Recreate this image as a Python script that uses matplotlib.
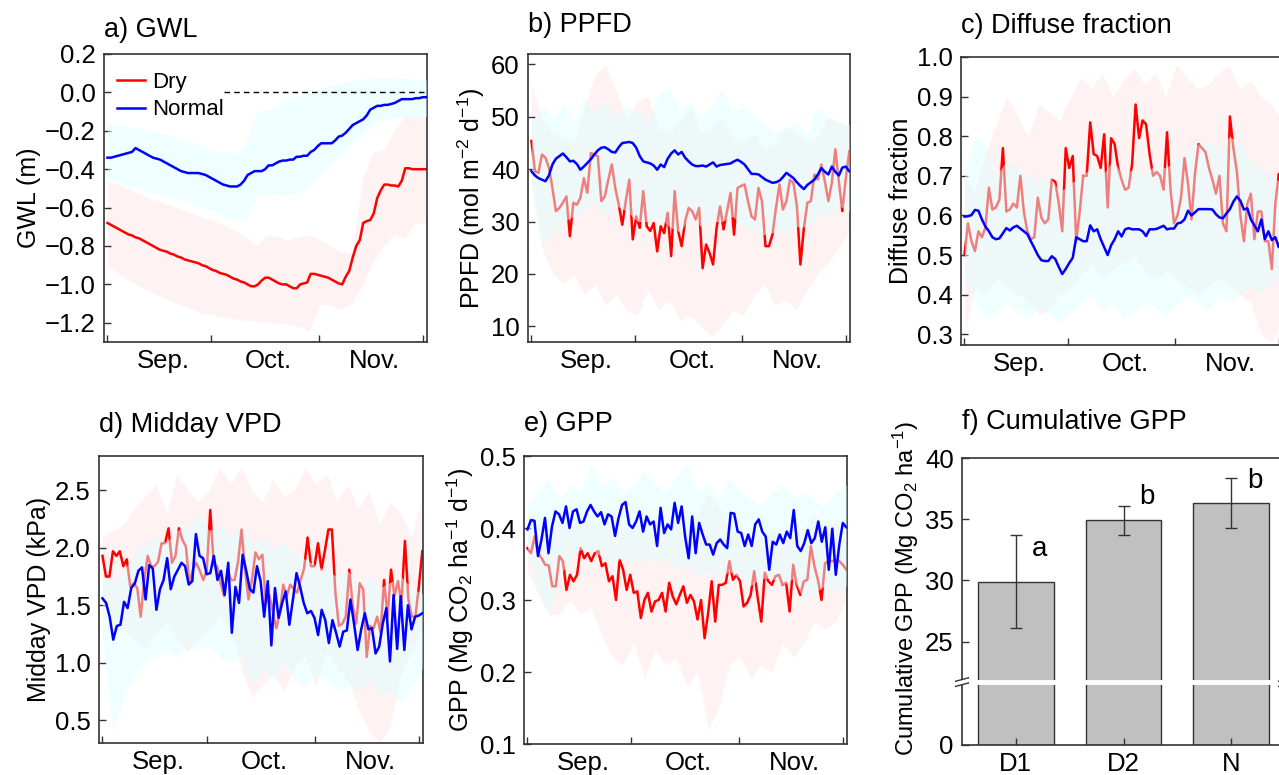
import numpy as np
import matplotlib
matplotlib.use("Agg")
import matplotlib.pyplot as plt

plt.rcParams['font.family'] = ['Liberation Sans', 'DejaVu Sans']
plt.rcParams['mathtext.fontset'] = 'custom'
plt.rcParams['mathtext.rm'] = 'Liberation Sans'
plt.rcParams['mathtext.it'] = 'Liberation Sans:italic'
plt.rcParams['mathtext.default'] = 'regular'

# --- data (daily values, Sep 1 .. Dec 1) ---
months = ["Sep.", "Oct.", "Nov."]

# a) GWL (m)
gwl_dry = [-0.68, -0.69, -0.70, -0.71, -0.72, -0.73, -0.74, -0.745, -0.755, -0.76,
           -0.77, -0.78, -0.79, -0.80, -0.81, -0.82, -0.825, -0.83, -0.84, -0.845,
           -0.855, -0.86, -0.87, -0.875, -0.88, -0.885, -0.89, -0.90, -0.905, -0.915,
           -0.925, -0.93, -0.94, -0.945, -0.95, -0.96, -0.97, -0.975, -0.985, -0.99,
           -1.0, -1.01, -1.01, -1.0, -0.98, -0.965, -0.965, -0.975, -0.985, -0.995,
           -1.0, -1.0, -1.01, -1.02, -1.02, -1.0, -0.995, -0.99, -0.945, -0.945,
           -0.95, -0.955, -0.96, -0.965, -0.975, -0.985, -0.995, -1.0, -0.96, -0.93,
           -0.86, -0.80, -0.77, -0.68, -0.67, -0.665, -0.63, -0.55, -0.51, -0.48,
           -0.48, -0.485, -0.485, -0.49, -0.46, -0.395, -0.395, -0.40, -0.40, -0.40,
           -0.40, -0.40]
gwl_normal = [-0.34, -0.34, -0.335, -0.33, -0.325, -0.32, -0.315, -0.31, -0.29, -0.30,
              -0.31, -0.32, -0.33, -0.34, -0.345, -0.35, -0.36, -0.37, -0.38, -0.39,
              -0.40, -0.41, -0.415, -0.42, -0.42, -0.42, -0.42, -0.425, -0.43, -0.44,
              -0.45, -0.46, -0.47, -0.48, -0.485, -0.49, -0.49, -0.49, -0.48, -0.46,
              -0.43, -0.42, -0.41, -0.41, -0.41, -0.40, -0.38, -0.38, -0.37, -0.36,
              -0.355, -0.355, -0.35, -0.35, -0.335, -0.335, -0.33, -0.33, -0.31, -0.30,
              -0.28, -0.265, -0.265, -0.265, -0.265, -0.25, -0.23, -0.225, -0.21, -0.19,
              -0.17, -0.16, -0.15, -0.14, -0.12, -0.09, -0.08, -0.07, -0.07, -0.065,
              -0.065, -0.06, -0.055, -0.045, -0.035, -0.035, -0.035, -0.035, -0.03, -0.03,
              -0.025, -0.025]
gwl_dry_lo = [-0.90, -0.94, -0.98, -1.01, -1.04, -1.06, -1.09, -1.11, -1.13, -1.15, -1.16,
              -1.17, -1.18, -1.19, -1.19, -1.20, -1.20, -1.21, -1.22, -1.24, -1.10, -1.11,
              -1.13, -1.10, -1.00, -0.88, -0.80, -0.74, -0.76, -0.68, -0.68]
gwl_dry_hi = [-0.46, -0.48, -0.50, -0.53, -0.55, -0.57, -0.59, -0.61, -0.63, -0.65, -0.67,
              -0.69, -0.72, -0.75, -0.80, -0.74, -0.75, -0.77, -0.75, -0.74, -0.77, -0.80,
              -0.83, -0.84, -0.45, -0.31, -0.30, -0.20, -0.12, -0.12, -0.12]
gwl_nor_lo = [-0.45, -0.47, -0.49, -0.50, -0.52, -0.53, -0.545, -0.56, -0.58, -0.60, -0.62,
              -0.64, -0.66, -0.66, -0.54, -0.53, -0.53, -0.54, -0.52, -0.48, -0.42, -0.38,
              -0.33, -0.27, -0.22, -0.17, -0.14, -0.13, -0.13, -0.13, -0.125]
gwl_nor_hi = [-0.16, -0.17, -0.18, -0.185, -0.20, -0.21, -0.225, -0.24, -0.26, -0.28, -0.30,
              -0.31, -0.32, -0.27, -0.10, -0.09, -0.07, -0.04, -0.02, 0.00, 0.02, 0.04,
              0.05, 0.06, 0.07, 0.075, 0.075, 0.075, 0.07, 0.07, 0.065]

# b) PPFD (mol m-2 d-1)
ppfd_dry = [45.4, 39.6, 39.3, 42.8, 42.2, 40.3, 36.4, 32.0, 32.6, 33.6, 34.8, 27.2, 33.6,
            33.2, 34.5, 38.3, 35.5, 43.1, 42.8, 42.5, 33.9, 34.8, 38.0, 40.9, 36.4, 33.2,
            29.4, 33.9, 38.0, 26.6, 31.0, 28.8, 35.8, 29.1, 28.2, 29.7, 24.3, 29.1, 27.8,
            31.7, 23.4, 35.8, 28.2, 25.3, 30.1, 32.6, 32.0, 30.4, 32.6, 21.1, 25.6, 24.0,
            21.8, 28.8, 32.9, 28.5, 32.0, 35.5, 27.5, 36.4, 36.8, 37.1, 33.9, 31.0, 30.4,
            36.4, 33.9, 25.3, 25.3, 27.5, 32.6, 37.1, 32.3, 33.9, 38.0, 37.4, 32.9, 21.8,
            28.8, 33.6, 33.9, 39.0, 38.0, 40.9, 37.7, 33.9, 37.4, 43.8, 37.7, 32.0, 38.3,
            43.4]
ppfd_normal = [39.6, 38.8, 38.3, 38.0, 37.7, 38.8, 40.9, 42.0, 42.5, 43.0, 42.3, 41.5, 41.6,
               41.0, 39.9, 40.5, 41.2, 41.9, 42.8, 43.6, 44.1, 44.2, 43.8, 43.3, 43.2, 44.2,
               45.0, 45.1, 45.2, 45.0, 44.1, 42.5, 41.5, 41.3, 41.1, 40.7, 39.9, 40.9, 40.4,
               42.0, 43.0, 43.6, 42.8, 43.3, 42.2, 41.5, 40.9, 40.6, 40.6, 40.7, 40.5, 40.9,
               41.3, 40.5, 40.8, 40.9, 41.0, 41.1, 41.5, 41.8, 41.4, 40.9, 40.0, 39.1, 39.1,
               39.0, 38.5, 38.0, 37.7, 37.4, 37.5, 37.8, 38.5, 39.3, 38.8, 38.3, 37.5, 36.8,
               36.2, 37.0, 37.5, 38.0, 39.0, 40.2, 39.5, 39.0, 40.5, 39.5, 38.8, 40.3, 40.5,
               39.6]
ppfd_dry_lo = [38, 25, 20, 18, 20, 16, 18, 14, 16, 13, 12, 17, 13, 15, 11, 12, 10, 8, 10, 13,
               12, 16, 18, 14, 15, 13, 17, 20, 22, 25, 28]
ppfd_dry_hi = [56, 50, 47, 46, 45, 52, 58, 60, 55, 50, 53, 54, 48, 47, 49, 52, 47, 48, 50, 46,
               45, 47, 44, 45, 48, 47, 45, 46, 50, 49, 48]
ppfd_nor_lo = [35, 25, 28, 30, 31, 32, 34, 31, 33, 32, 30, 30, 31, 29, 28, 31, 29, 30, 30, 31,
               29, 28, 27.5, 28, 28, 29, 29, 31, 31, 33, 32]
ppfd_nor_hi = [49, 52, 50, 52.5, 49, 54, 51, 53, 50, 52, 51, 49, 54.5, 55.5, 51, 53, 50, 52,
               55.5, 51, 52, 50, 49, 47, 48, 49, 46.5, 52, 50, 49, 48.5]

# c) Diffuse fraction
dif_dry = [0.50, 0.58, 0.535, 0.51, 0.56, 0.545, 0.57, 0.67, 0.615, 0.62, 0.64, 0.77, 0.61,
           0.615, 0.63, 0.62, 0.70, 0.61, 0.56, 0.54, 0.545, 0.645, 0.595, 0.58, 0.59, 0.69,
           0.685, 0.63, 0.56, 0.77, 0.72, 0.75, 0.535, 0.61, 0.70, 0.70, 0.835, 0.755, 0.75,
           0.72, 0.805, 0.62, 0.795, 0.78, 0.72, 0.69, 0.665, 0.67, 0.73, 0.88, 0.795, 0.84,
           0.83, 0.755, 0.70, 0.71, 0.70, 0.665, 0.81, 0.665, 0.58, 0.60, 0.645, 0.745, 0.68,
           0.59, 0.705, 0.78, 0.77, 0.76, 0.72, 0.69, 0.655, 0.70, 0.58, 0.56, 0.85, 0.77,
           0.71, 0.60, 0.535, 0.63, 0.655, 0.54, 0.61, 0.61, 0.535, 0.535, 0.465, 0.63, 0.705,
           0.68]
dif_normal = [0.597, 0.598, 0.601, 0.614, 0.612, 0.59, 0.572, 0.56, 0.545, 0.54, 0.542, 0.555,
              0.568, 0.562, 0.57, 0.574, 0.567, 0.56, 0.553, 0.535, 0.518, 0.50, 0.487, 0.485,
              0.485, 0.497, 0.49, 0.47, 0.452, 0.465, 0.48, 0.493, 0.545, 0.54, 0.535, 0.535,
              0.575, 0.56, 0.565, 0.54, 0.52, 0.50, 0.525, 0.54, 0.56, 0.547, 0.565, 0.568,
              0.565, 0.565, 0.565, 0.56, 0.548, 0.565, 0.565, 0.566, 0.57, 0.574, 0.565, 0.567,
              0.567, 0.58, 0.582, 0.59, 0.612, 0.60, 0.608, 0.616, 0.616, 0.616, 0.616, 0.615,
              0.603, 0.595, 0.593, 0.605, 0.616, 0.635, 0.648, 0.637, 0.615, 0.618, 0.59, 0.575,
              0.56, 0.59, 0.54, 0.56, 0.538, 0.545, 0.52, 0.547]
dif_dry_lo = [0.30, 0.42, 0.40, 0.44, 0.42, 0.40, 0.38, 0.35, 0.36, 0.40, 0.42, 0.45, 0.48,
              0.44, 0.46, 0.48, 0.50, 0.46, 0.44, 0.46, 0.44, 0.42, 0.40, 0.42, 0.44, 0.42,
              0.40, 0.38, 0.30, 0.28, 0.34]
dif_dry_hi = [0.70, 0.66, 0.76, 0.83, 0.90, 0.85, 0.80, 0.88, 0.86, 0.84, 0.90, 0.95, 0.92,
              0.96, 0.90, 0.94, 0.97, 0.93, 0.96, 0.90, 0.98, 0.95, 0.92, 0.93, 0.96, 0.98,
              0.92, 0.94, 0.90, 0.88, 0.84]
dif_nor_lo = [0.45, 0.38, 0.34, 0.36, 0.38, 0.36, 0.34, 0.37, 0.35, 0.33, 0.36, 0.38, 0.40,
              0.36, 0.38, 0.34, 0.36, 0.38, 0.37, 0.35, 0.37, 0.40, 0.38, 0.36, 0.40, 0.38,
              0.40, 0.42, 0.40, 0.44, 0.42]
dif_nor_hi = [0.72, 0.80, 0.78, 0.70, 0.74, 0.72, 0.70, 0.68, 0.70, 0.66, 0.68, 0.70, 0.72,
              0.70, 0.74, 0.70, 0.72, 0.70, 0.73, 0.72, 0.74, 0.76, 0.78, 0.79, 0.76, 0.80,
              0.78, 0.74, 0.72, 0.70, 0.68]

# d) Midday VPD (kPa)
vpd_dry = [1.93, 1.75, 1.75, 1.97, 1.93, 1.97, 1.84, 1.90, 1.66, 1.69, 1.65, 1.40, 1.72, 1.93,
           1.84, 1.84, 1.88, 2.04, 2.04, 2.17, 1.87, 1.93, 2.17, 2.07, 2.01, 1.69, 1.81, 1.87,
           1.80, 1.72, 1.81, 2.33, 1.85, 1.84, 1.69, 1.58, 1.81, 1.72, 1.72, 1.88, 2.16, 1.81,
           1.55, 1.72, 1.96, 1.90, 1.94, 1.52, 1.59, 1.45, 1.30, 1.43, 1.68, 1.58, 1.68, 1.64,
           1.61, 1.72, 1.82, 2.09, 1.84, 1.84, 2.04, 1.81, 1.98, 2.16, 2.16, 1.61, 1.32, 1.34,
           1.40, 1.81, 1.49, 1.34, 1.69, 1.64, 1.05, 1.32, 1.30, 1.40, 1.26, 1.72, 1.40, 1.81,
           1.58, 1.71, 1.52, 2.06, 1.55, 1.40, 1.40, 1.66, 1.97]
vpd_normal = [1.56, 1.52, 1.40, 1.20, 1.32, 1.33, 1.53, 1.475, 1.65, 1.69, 1.80, 1.83, 1.55,
              1.85, 1.82, 1.46, 1.64, 1.72, 1.91, 1.64, 1.75, 1.81, 1.87, 1.84, 1.68, 1.71,
              2.12, 1.93, 1.91, 1.77, 1.78, 1.93, 1.72, 1.80, 1.59, 1.87, 1.26, 1.66, 1.52,
              1.94, 1.80, 1.64, 1.61, 1.84, 1.71, 1.40, 1.71, 1.15, 1.65, 1.39, 1.52, 1.62,
              1.33, 1.55, 1.78, 1.66, 1.52, 1.43, 1.45, 1.39, 1.24, 1.46, 1.37, 1.17, 1.37,
              1.26, 1.14, 1.27, 1.28, 1.55, 1.34, 1.11, 1.29, 1.43, 1.29, 1.30, 1.08, 1.14,
              1.34, 1.475, 1.01, 1.59, 1.12, 1.58, 1.11, 1.50, 1.29, 1.40, 1.41, 1.43]
vpd_dry_lo = [1.60, 1.40, 1.30, 1.20, 1.10, 1.25, 1.35, 1.20, 1.10, 1.20, 1.30, 1.40, 1.30,
              0.95, 0.70, 0.80, 0.90, 0.75, 0.95, 1.05, 0.80, 1.10, 0.95, 0.85, 0.60, 0.40,
              0.30, 0.45, 0.90, 1.10, 1.30]
vpd_dry_hi = [2.10, 2.15, 2.20, 2.35, 2.45, 2.55, 2.30, 2.65, 2.50, 2.40, 2.50, 2.70, 2.55,
              2.70, 2.50, 2.40, 2.60, 2.45, 2.50, 2.70, 2.55, 2.65, 2.40, 2.55, 2.35, 2.50,
              2.20, 2.40, 2.30, 2.10, 2.45]
vpd_nor_lo = [1.20, 0.40, 0.70, 0.90, 1.00, 1.05, 1.10, 1.05, 1.15, 1.10, 1.15, 1.05, 1.00,
              1.05, 0.80, 0.95, 0.85, 1.00, 0.85, 0.80, 0.90, 0.85, 0.75, 0.80, 0.75, 0.85,
              0.70, 0.75, 0.65, 0.80, 0.95]
vpd_nor_hi = [1.75, 1.70, 1.80, 1.95, 2.05, 2.10, 2.05, 2.15, 2.20, 2.30, 2.15, 2.20, 2.10,
              2.20, 2.05, 2.10, 2.00, 2.05, 1.95, 1.90, 1.85, 1.80, 1.75, 1.80, 1.70, 1.75,
              1.65, 1.70, 1.75, 1.65, 1.60]

# e) GPP (Mg CO2 ha-1 d-1)
gpp_dry = [0.372, 0.365, 0.388, 0.365, 0.358, 0.349, 0.348, 0.319, 0.319, 0.361, 0.354, 0.314,
           0.335, 0.326, 0.335, 0.372, 0.358, 0.365, 0.354, 0.365, 0.368, 0.347, 0.351, 0.326,
           0.333, 0.300, 0.356, 0.342, 0.314, 0.335, 0.310, 0.312, 0.275, 0.300, 0.310, 0.284,
           0.298, 0.300, 0.310, 0.284, 0.324, 0.305, 0.294, 0.307, 0.319, 0.296, 0.307, 0.298,
           0.273, 0.300, 0.247, 0.282, 0.326, 0.270, 0.321, 0.321, 0.324, 0.354, 0.328, 0.335,
           0.326, 0.291, 0.296, 0.307, 0.340, 0.303, 0.270, 0.338, 0.326, 0.321, 0.333, 0.335,
           0.321, 0.324, 0.284, 0.349, 0.321, 0.307, 0.326, 0.328, 0.375, 0.347, 0.328, 0.300,
           0.351, 0.354, 0.354, 0.356, 0.354, 0.349, 0.342]
gpp_normal = [0.398, 0.411, 0.410, 0.361, 0.384, 0.414, 0.365, 0.402, 0.423, 0.419, 0.407,
              0.430, 0.400, 0.423, 0.426, 0.407, 0.409, 0.423, 0.432, 0.423, 0.416, 0.422,
              0.405, 0.419, 0.416, 0.389, 0.414, 0.432, 0.436, 0.405, 0.400, 0.409, 0.423,
              0.395, 0.416, 0.405, 0.409, 0.375, 0.428, 0.393, 0.405, 0.398, 0.435, 0.407,
              0.430, 0.388, 0.358, 0.416, 0.365, 0.407, 0.391, 0.377, 0.377, 0.363, 0.379,
              0.384, 0.377, 0.372, 0.421, 0.420, 0.395, 0.393, 0.375, 0.391, 0.375, 0.405,
              0.412, 0.395, 0.388, 0.342, 0.381, 0.377, 0.391, 0.379, 0.395, 0.386, 0.425,
              0.375, 0.368, 0.379, 0.397, 0.379, 0.386, 0.409, 0.381, 0.401, 0.342, 0.399,
              0.335, 0.377, 0.407, 0.401]
gpp_dry_lo = [0.34, 0.31, 0.28, 0.28, 0.30, 0.28, 0.29, 0.25, 0.22, 0.21, 0.24, 0.19, 0.23,
              0.21, 0.22, 0.18, 0.20, 0.12, 0.15, 0.21, 0.22, 0.19, 0.21, 0.20, 0.24, 0.22,
              0.24, 0.27, 0.26, 0.27, 0.30]
gpp_dry_hi = [0.40, 0.39, 0.40, 0.41, 0.40, 0.42, 0.41, 0.40, 0.43, 0.40, 0.41, 0.40, 0.39,
              0.40, 0.41, 0.40, 0.42, 0.45, 0.43, 0.40, 0.39, 0.38, 0.39, 0.40, 0.38, 0.39,
              0.40, 0.42, 0.40, 0.41, 0.38]
gpp_nor_lo = [0.37, 0.31, 0.28, 0.33, 0.36, 0.37, 0.37, 0.36, 0.35, 0.36, 0.35, 0.36, 0.35,
              0.36, 0.34, 0.35, 0.33, 0.34, 0.33, 0.34, 0.33, 0.32, 0.33, 0.33, 0.32, 0.33,
              0.30, 0.31, 0.32, 0.31, 0.32]
gpp_nor_hi = [0.43, 0.45, 0.47, 0.44, 0.46, 0.45, 0.49, 0.46, 0.47, 0.45, 0.46, 0.48, 0.46,
              0.45, 0.47, 0.49, 0.45, 0.46, 0.44, 0.47, 0.45, 0.44, 0.43, 0.45, 0.46, 0.44,
              0.45, 0.44, 0.43, 0.45, 0.46]

# f) Cumulative GPP
groups = ["D1", "D2", "N"]
cum_gpp = [29.9, 34.9, 36.3]
cum_err = [3.8, 1.15, 2.05]
letters = ["a", "b", "b"]

RED = "#FF0000"
BLUE = "#0000FF"
SPINE = "#333333"
TICK_FS = 18.5
TITLE_FS = 19.5
LABEL_FS = 18
W, H = 1279, 775


def axes_px(left, right, top, bottom):
    return [left / W, (H - bottom) / H, (right - left) / W, (bottom - top) / H]


def style(ax):
    for s in ax.spines.values():
        s.set_color(SPINE)
        s.set_linewidth(1.2)
    ax.tick_params(which='both', direction='in', length=5, width=1, color=SPINE,
                   labelsize=TICK_FS, pad=6)


def series_panel(ax, dry, normal, dlo, dhi, nlo, nhi, title, ylabel, ylim, yticks, tpad):
    xb = np.linspace(0, 92, len(dlo))
    # drawing order matters: the cyan band tints the red line where they overlap
    ax.fill_between(xb, dlo, dhi, color=RED, alpha=0.05, lw=0, zorder=1)
    l1, = ax.plot(np.linspace(0, 92, len(dry)), dry, color=RED, lw=1.8, label="Dry", zorder=2)
    ax.fill_between(xb, nlo, nhi, color="#E0FFFF", alpha=0.5, lw=0, zorder=3)
    l2, = ax.plot(np.linspace(0, 92, len(normal)), normal, color=BLUE, lw=1.8,
                  label="Normal", zorder=4)
    ax.set_xlim(-1.0, 92.2)
    ax.set_ylim(*ylim)
    ax.set_yticks(yticks)
    ax.set_xticks([0, 30, 61, 91])
    ax.set_xticklabels([])
    ax.set_xticks([16, 46.5, 77], minor=True)
    ax.set_xticklabels(months, minor=True)
    style(ax)
    ax.tick_params(axis='x', which='minor', length=0, pad=5)
    ax.set_title(title, loc='left', fontsize=TITLE_FS, pad=tpad)
    ax.set_ylabel(ylabel, fontsize=LABEL_FS, labelpad=3)
    return l1, l2


fig = plt.figure(figsize=(W / 100, H / 100), dpi=100)

ax_a = fig.add_axes(axes_px(104, 427, 54, 342))
ax_b = fig.add_axes(axes_px(528, 850, 54, 342))
ax_c = fig.add_axes(axes_px(961, 1283, 57, 345))
ax_d = fig.add_axes(axes_px(99, 423, 456, 743))
ax_e = fig.add_axes(axes_px(524, 847, 456, 744))
ax_f = fig.add_axes(axes_px(962, 1285, 458, 745))

l1, l2 = series_panel(ax_a, gwl_dry, gwl_normal, gwl_dry_lo, gwl_dry_hi, gwl_nor_lo, gwl_nor_hi,
                      "a) GWL", "GWL (m)", (-1.3, 0.2),
                      [0.2, 0.0, -0.2, -0.4, -0.6, -0.8, -1.0, -1.2], 12)
ax_a.hlines(0, 33.5, 92.2, colors='black', linestyles=(0, (4, 3)), lw=1, zorder=5)
ax_a.legend(handles=[l1, l2], loc='upper left', frameon=False, fontsize=16,
            handlelength=1.25, handletextpad=0.3, labelspacing=0.3,
            borderaxespad=0.3, borderpad=0.3, bbox_to_anchor=(0.0, 0.985))

series_panel(ax_b, ppfd_dry, ppfd_normal, ppfd_dry_lo, ppfd_dry_hi, ppfd_nor_lo, ppfd_nor_hi,
             "b) PPFD", "PPFD (mol m$^{-2}$ d$^{-1}$)", (7, 62),
             [10, 20, 30, 40, 50, 60], 16)
series_panel(ax_c, dif_dry, dif_normal, dif_dry_lo, dif_dry_hi, dif_nor_lo, dif_nor_hi,
             "c) Diffuse fraction", "Diffuse fraction", (0.273, 1.0),
             [0.3, 0.4, 0.5, 0.6, 0.7, 0.8, 0.9, 1.0], 17)
series_panel(ax_d, vpd_dry, vpd_normal, vpd_dry_lo, vpd_dry_hi, vpd_nor_lo, vpd_nor_hi,
             "d) Midday VPD", "Midday VPD (kPa)", (0.3, 2.8),
             [0.5, 1.0, 1.5, 2.0, 2.5], 17)
series_panel(ax_e, gpp_dry, gpp_normal, gpp_dry_lo, gpp_dry_hi, gpp_nor_lo, gpp_nor_hi,
             "e) GPP", "GPP (Mg CO$_2$ ha$^{-1}$ d$^{-1}$)", (0.1, 0.5),
             [0.1, 0.2, 0.3, 0.4, 0.5], 18)

# f) broken y axis through a piecewise scale
B = 21.7
K = 0.2366


def fwd(v):
    v = np.asarray(v, dtype=float)
    return np.where(v < B, v * K, B * K + (v - B))


def inv(u):
    u = np.asarray(u, dtype=float)
    return np.where(u < B * K, u / K, u - B * K + B)


ax_f.set_yscale('function', functions=(fwd, inv))
xpos = np.arange(len(groups))
ax_f.bar(xpos, cum_gpp, width=0.7, color="#C0C0C0", edgecolor=SPINE, lw=1.0,
         yerr=cum_err, capsize=4,
         error_kw=dict(ecolor=SPINE, elinewidth=1.0, capthick=1.0))
ax_f.set_xlim(-0.5, 2.5)
ax_f.set_ylim(0, 40)
ax_f.set_yticks([0, 25, 30, 35, 40])
ax_f.set_yticklabels(["0", "25", "30", "35", "40"])
ax_f.minorticks_off()
ax_f.set_xticks(xpos)
ax_f.set_xticklabels(groups)
style(ax_f)
ax_f.tick_params(axis='x', pad=5)
letter_dy = [-1.1, 0.8, -0.2]
for i, (m, e, t) in enumerate(zip(cum_gpp, cum_err, letters)):
    ax_f.text(i + 0.22, m + e + letter_dy[i], t, fontsize=20, ha='center', va='center')
ax_f.set_title("f) Cumulative GPP", loc='left', fontsize=TITLE_FS, pad=21)
ax_f.set_ylabel("Cumulative GPP (Mg CO$_2$ ha$^{-1}$)", fontsize=17, labelpad=3)
ax_f.yaxis.label.set_y(0.545)

yb = float(fwd(B) / fwd(40))
ax_f.plot([-0.005, 1.005], [yb, yb], transform=ax_f.transAxes, color='white', lw=3.5,
          clip_on=False, zorder=5, solid_capstyle='butt')
for xs in (0.0, 1.0):
    for dy in (-0.009, 0.009):
        ax_f.plot([xs - 0.02, xs + 0.02], [yb + dy - 0.006, yb + dy + 0.006],
                  transform=ax_f.transAxes, color=SPINE, lw=1.0, clip_on=False, zorder=6)

fig.savefig("out.png", dpi=100)
